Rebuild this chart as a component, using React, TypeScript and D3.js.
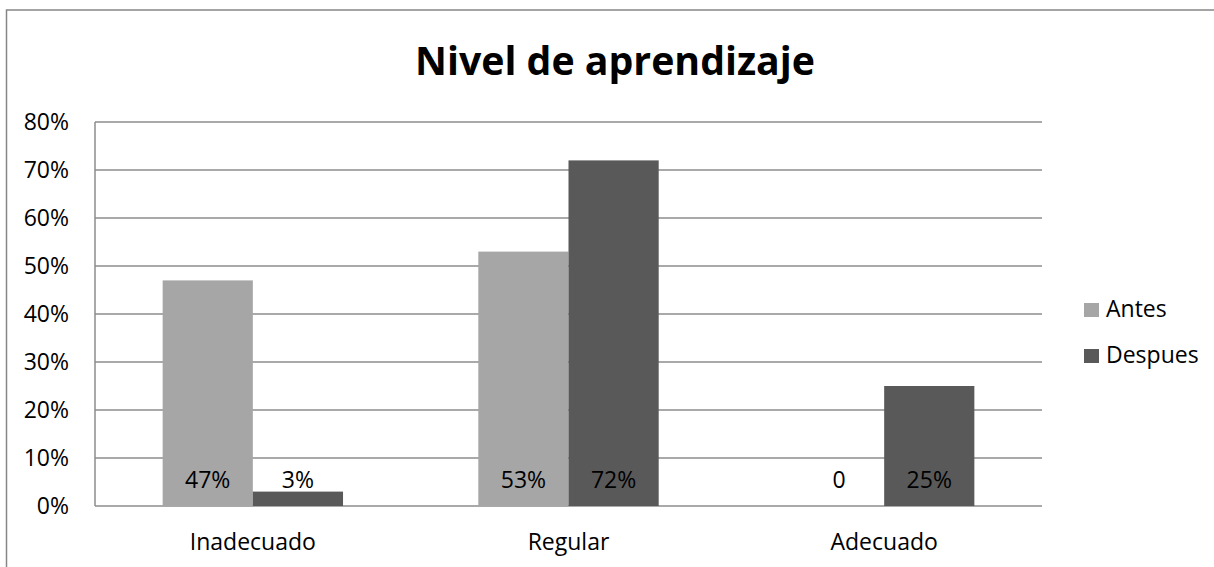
import React from 'react';
import * as d3 from 'd3';

// chart data
const categories = ['Inadecuado', 'Regular', 'Adecuado'];
const seriesNames = ['Antes', 'Despues'];
const antesValues = [0.47, 0.53, 0];
const despuesValues = [0.03, 0.72, 0.25];
const antesLabels = ['47%', '53%', '0'];
const despuesLabels = ['3%', '72%', '25%'];
const yTicks = [0, 0.1, 0.2, 0.3, 0.4, 0.5, 0.6, 0.7, 0.8];

const colors = { Antes: '#a6a6a6', Despues: '#595959' };
const FONT = '"Open Sans", sans-serif';

const App = () => {
  const width = 1214;
  const height = 567;
  const plot = { left: 95, right: 1042, top: 122, bottom: 506 };

  const x0 = d3.scaleBand<string>()
    .domain(categories)
    .range([plot.left, plot.right])
    .padding(0);
  const step = x0.bandwidth();
  // Excel style: gap width 150% => bar = step / (2 + 1.5)
  const x1 = d3.scaleBand<string>()
    .domain(seriesNames)
    .range([step * 0.75 / 3.5, step * 2.75 / 3.5])
    .padding(0);

  const y = d3.scaleLinear()
    .domain([0, 0.8])
    .range([plot.bottom, plot.top]);

  const series = [
    { name: 'Antes', values: antesValues, labels: antesLabels },
    { name: 'Despues', values: despuesValues, labels: despuesLabels },
  ];

  return (
    <svg
      width={width}
      height={height}
      style={{ position: 'absolute', left: 0, top: 0, background: '#fff' }}
      fontFamily={FONT}
    >
      {/* outer frame */}
      <rect x={6.5} y={10} width={1300} height={700} fill="#fff" stroke="#868686" strokeWidth={1.5} />

      <text x={615} y={75} textAnchor="middle" fontSize={40} fontWeight="bold" fill="#000"
        textLength={400} lengthAdjust="spacingAndGlyphs">
        Nivel de aprendizaje
      </text>

      {/* gridlines + y labels */}
      {yTicks.map(t => (
        <g key={t}>
          <line x1={plot.left} x2={plot.right} y1={y(t)} y2={y(t)} stroke="#8c8c8c" strokeWidth={1.5} />
          <text x={69} y={y(t) + 8} textAnchor="end" fontSize={23} fill="#000">
            {d3.format('.0%')(t)}
          </text>
        </g>
      ))}
      <line x1={plot.left} x2={plot.left} y1={plot.top} y2={plot.bottom} stroke="#8c8c8c" strokeWidth={1.5} />

      {/* bars */}
      {series.map(s => (
        <g key={s.name}>
          {categories.map((c, i) => {
            const bx = (x0(c) ?? 0) + (x1(s.name) ?? 0);
            const by = y(s.values[i]);
            return (
              <rect key={c} x={bx} y={by} width={x1.bandwidth()} height={plot.bottom - by}
                fill={colors[s.name as keyof typeof colors]} />
            );
          })}
        </g>
      ))}

      {/* data labels, inside base */}
      {series.map(s => (
        <g key={s.name + '-lbl'}>
          {categories.map((c, i) => (
            <text key={c} x={(x0(c) ?? 0) + (x1(s.name) ?? 0) + x1.bandwidth() / 2} y={488}
              textAnchor="middle" fontSize={23} fill="#000">
              {s.labels[i]}
            </text>
          ))}
        </g>
      ))}

      {/* category labels */}
      {categories.map(c => (
        <text key={c} x={(x0(c) ?? 0) + step / 2} y={550} textAnchor="middle" fontSize={23} fill="#000">
          {c}
        </text>
      ))}

      {/* legend */}
      {seriesNames.map((n, i) => (
        <g key={n} transform={`translate(1084,${303 + i * 46})`}>
          <rect x={0} y={0} width={15} height={14} fill={colors[n as keyof typeof colors]} />
          <text x={22} y={14} fontSize={23} fill="#000">{n}</text>
        </g>
      ))}
    </svg>
  );
};

export default App;
